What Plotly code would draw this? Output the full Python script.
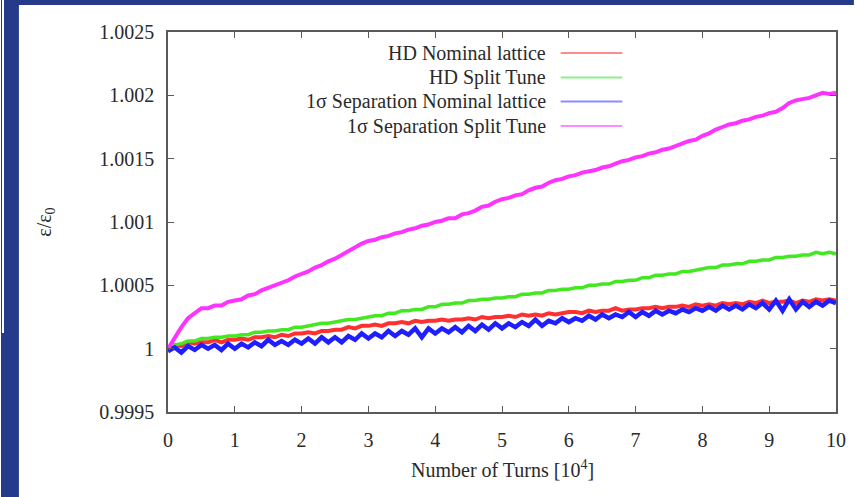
import plotly.graph_objects as go

# sampling grid: number of turns in units of 10^4
turns = [round(i * 0.1, 1) for i in range(101)]

# emittance growth, eps/eps0 - 1, in units of 1e-4
hd_nominal = [0.1, 0.3, 0.2, 0.5, 0.4, 0.5, 0.5, 0.7, 0.5, 0.7,
              0.7, 0.8, 0.7, 0.9, 0.9, 1.0, 0.9, 1.1, 1.0, 1.2,
              1.2, 1.3, 1.2, 1.4, 1.4, 1.5, 1.5, 1.7, 1.6, 1.8,
              1.8, 1.9, 1.8, 2.0, 2.0, 2.1, 2.0, 2.2, 2.1, 2.2,
              2.2, 2.3, 2.2, 2.3, 2.3, 2.4, 2.3, 2.5, 2.4, 2.5,
              2.5, 2.6, 2.5, 2.7, 2.6, 2.7, 2.6, 2.8, 2.7, 2.8,
              2.9, 2.9, 2.8, 3.0, 2.9, 3.0, 3.0, 3.2, 3.0, 3.1,
              3.1, 3.2, 3.2, 3.3, 3.2, 3.3, 3.3, 3.4, 3.3, 3.5,
              3.4, 3.5, 3.4, 3.6, 3.5, 3.6, 3.5, 3.7, 3.6, 3.8,
              3.6, 3.7, 3.7, 3.8, 3.6, 3.8, 3.7, 3.9, 3.8, 3.9,
              3.8]
hd_split = [0.1, 0.3, 0.4, 0.6, 0.6, 0.8, 0.8, 0.9, 0.9, 1.0,
            1.0, 1.1, 1.1, 1.3, 1.3, 1.4, 1.4, 1.5, 1.5, 1.7,
            1.7, 1.8, 1.9, 2.0, 2.0, 2.1, 2.2, 2.3, 2.3, 2.4,
            2.5, 2.6, 2.6, 2.8, 2.8, 3.0, 3.0, 3.1, 3.1, 3.3,
            3.3, 3.5, 3.5, 3.6, 3.6, 3.8, 3.8, 3.9, 3.9, 4.0,
            4.0, 4.1, 4.1, 4.3, 4.3, 4.4, 4.4, 4.6, 4.6, 4.7,
            4.7, 4.8, 4.8, 5.0, 5.0, 5.1, 5.1, 5.3, 5.3, 5.4,
            5.4, 5.6, 5.6, 5.8, 5.8, 5.9, 5.9, 6.1, 6.1, 6.2,
            6.3, 6.4, 6.4, 6.6, 6.6, 6.7, 6.7, 6.9, 6.9, 7.0,
            7.0, 7.2, 7.2, 7.3, 7.3, 7.4, 7.4, 7.6, 7.5, 7.6,
            7.5]
sep_nominal = [-0.2, 0.1, -0.3, 0.2, -0.1, 0.3, 0.0, 0.3, -0.1, 0.4,
               0.0, 0.4, 0.1, 0.5, 0.2, 0.7, 0.3, 0.6, 0.3, 0.7,
               0.4, 0.8, 0.4, 0.9, 0.5, 0.9, 0.5, 1.0, 0.7, 1.2,
               0.8, 1.2, 0.9, 1.4, 1.0, 1.4, 1.1, 1.6, 0.9, 1.6,
               1.2, 1.6, 1.3, 1.7, 1.3, 1.8, 1.4, 1.9, 1.5, 2.0,
               1.6, 2.0, 1.7, 2.1, 1.8, 2.3, 1.8, 2.2, 2.0, 2.4,
               2.1, 2.4, 2.2, 2.6, 2.3, 2.7, 2.4, 2.7, 2.5, 2.9,
               2.5, 2.9, 2.6, 3.0, 2.7, 3.0, 2.8, 3.1, 2.9, 3.2,
               3.0, 3.3, 3.0, 3.4, 3.1, 3.4, 3.1, 3.5, 3.2, 3.6,
               3.1, 3.8, 3.0, 3.9, 3.1, 3.7, 3.3, 3.7, 3.4, 3.8,
               3.6]
sep_split = [0.0, 0.9, 1.7, 2.4, 2.8, 3.2, 3.2, 3.4, 3.4, 3.7,
             3.8, 3.9, 4.2, 4.3, 4.6, 4.8, 5.0, 5.2, 5.4, 5.7,
             5.9, 6.1, 6.4, 6.6, 6.9, 7.1, 7.4, 7.7, 8.0, 8.3,
             8.5, 8.6, 8.8, 8.9, 9.1, 9.2, 9.4, 9.5, 9.7, 9.8,
             10.0, 10.1, 10.3, 10.3, 10.6, 10.7, 10.9, 11.2, 11.3, 11.6,
             11.8, 11.9, 12.1, 12.2, 12.5, 12.7, 12.8, 13.1, 13.3, 13.4,
             13.6, 13.7, 13.9, 14.0, 14.1, 14.3, 14.4, 14.6, 14.8, 14.9,
             15.1, 15.2, 15.4, 15.5, 15.7, 15.8, 16.0, 16.2, 16.4, 16.5,
             16.8, 17.0, 17.3, 17.5, 17.7, 17.8, 18.0, 18.1, 18.3, 18.4,
             18.6, 18.7, 19.0, 19.4, 19.6, 19.7, 19.8, 20.0, 20.2, 20.1,
             20.2]

series_names = ["HD Nominal lattice", "HD Split Tune",
                "1σ Separation Nominal lattice", "1σ Separation Split Tune"]
series_values = [hd_nominal, hd_split, sep_nominal, sep_split]
series_colors = ["#ff3030", "#44e822", "#1e1eff", "#ff33ff"]
series_widths = [4.0, 3.5, 4.5, 4.0]
legend_colors = ["#ff8c8c", "#8cf08c", "#8c8cff", "#ff8cff"]

y_tickvals = [0.9995, 1.0, 1.0005, 1.001, 1.0015, 1.002, 1.0025]
y_ticktext = ["0.9995", "1", "1.0005", "1.001", "1.0015", "1.002", "1.0025"]
x_tickvals = list(range(0, 11))
x_ticktext = [str(v) for v in x_tickvals]

FONT = "Liberation Serif, Times New Roman, serif"
FS = 20
TXT = "#2a2a2a"
AX = "#5a5a5a"

fig = go.Figure()
for name, vals, col, w in zip(series_names, series_values, series_colors, series_widths):
    fig.add_trace(go.Scatter(
        x=turns, y=[1 + v * 1e-4 for v in vals], mode="lines", name=name,
        line=dict(color=col, width=w), showlegend=False))

W, H = 858, 497
L, R, T, B = 168, 840, 32, 412
pw, ph = R - L, B - T

def px(xp):
    return (xp - L) / pw

def py(yp):
    return (B - yp) / ph

shapes = [
    # slide background: blue band on left and top
    dict(type="rect", xref="paper", yref="paper", x0=px(0), x1=px(18), y0=py(H), y1=py(0),
         fillcolor="#253a8a", line_width=0, layer="above"),
    dict(type="rect", xref="paper", yref="paper", x0=px(0), x1=px(W), y0=py(5), y1=py(0),
         fillcolor="#253a8a", line_width=0, layer="above"),
    dict(type="rect", xref="paper", yref="paper", x0=px(1), x1=px(3), y0=py(333), y1=py(0),
         fillcolor="#ffffff", line_width=0, layer="above"),
]

annotations = []
leg_rows = [53, 77.5, 101.5, 126]
for name, col, yy in zip(series_names, legend_colors, leg_rows):
    annotations.append(dict(text=name, xref="paper", yref="paper", x=px(550), y=py(yy),
                            xanchor="right", yanchor="middle", showarrow=False,
                            font=dict(family=FONT, size=FS, color=TXT)))
    shapes.append(dict(type="line", xref="paper", yref="paper", x0=px(563), x1=px(625),
                       y0=py(yy), y1=py(yy), line=dict(color=col, width=2)))

annotations.append(dict(text="Number of Turns [10<sup>4</sup>]", xref="paper", yref="paper",
                        x=px(505), y=py(469), xanchor="center", yanchor="middle",
                        showarrow=False, font=dict(family=FONT, size=FS, color=TXT)))
annotations.append(dict(text="ε/ε<sub>0</sub>", xref="paper", yref="paper",
                        x=px(44), y=py(222), xanchor="center", yanchor="middle",
                        textangle=-90, showarrow=False,
                        font=dict(family=FONT, size=FS, color=TXT)))

fig.update_layout(
    width=W, height=H,
    margin=dict(l=L, r=W - R, t=T, b=H - B, pad=0),
    paper_bgcolor="white", plot_bgcolor="white",
    shapes=shapes, annotations=annotations,
    font=dict(family=FONT, size=FS, color=TXT),
)
fig.update_xaxes(range=[0, 10], tickvals=x_tickvals, ticktext=x_ticktext,
                 showgrid=False, zeroline=False, showline=True, linecolor=AX, linewidth=1.5,
                 mirror="ticks", ticks="inside", ticklen=6, tickcolor=AX, tickwidth=1.2,
                 ticklabelstandoff=9, tickfont=dict(family=FONT, size=FS, color=TXT))
fig.update_yaxes(range=[0.9995, 1.0025], tickvals=y_tickvals, ticktext=y_ticktext,
                 showgrid=False, zeroline=False, showline=True, linecolor=AX, linewidth=1.5,
                 mirror="ticks", ticks="inside", ticklen=6, tickcolor=AX, tickwidth=1.2,
                 ticklabelstandoff=8, tickfont=dict(family=FONT, size=FS, color=TXT))

fig.write_html("out.html")
